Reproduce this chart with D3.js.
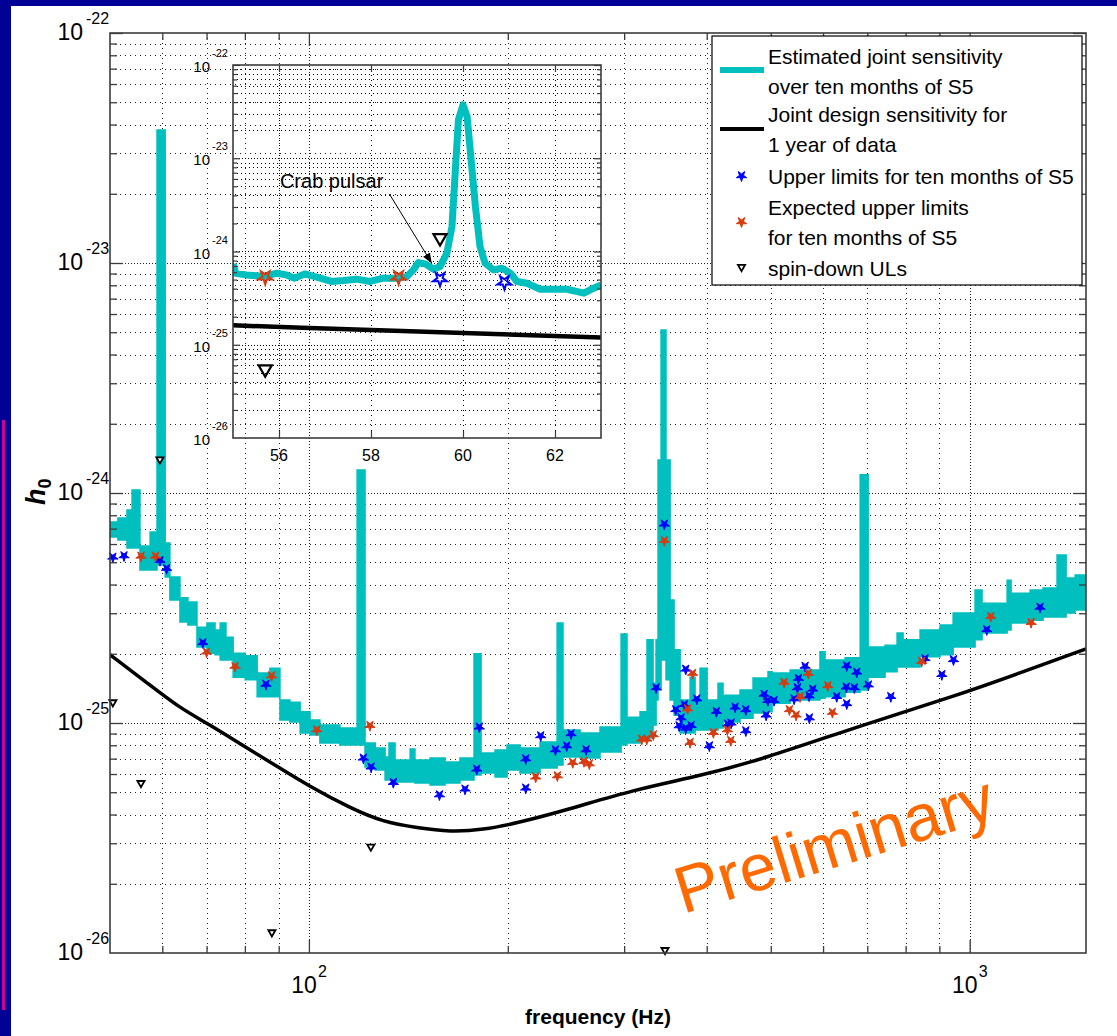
<!DOCTYPE html>
<html>
<head>
<meta charset="utf-8">
<title>Pulsar upper limits for ten months of S5</title>
<script src="https://cdn.jsdelivr.net/npm/d3@7/dist/d3.min.js"></script>
<style>
  html, body { margin: 0; padding: 0; background: #ffffff; }
  svg { display: block; font-family: "Liberation Sans", Arial, Helvetica, sans-serif; }
</style>
</head>
<body>
<svg id="chart" width="1117" height="1036"></svg>
<script>
// ---------------- data ----------------
// Estimated joint sensitivity (ten months of S5): lower / upper edge of the noisy band, step-wise in frequency (Hz)
const bandFreq = [50.0,51.4,53.05,54.0,55.5,57.5,58.9,60.6,61.6,63.8,65.6,67.7,70.1,72.1,73.4,74.9,76.8,80.1,83.5,87.3,
  90.4,93.6,97.0,100.4,103.9,111.4,118.3,121.6,126.0,130.4,132.2,135.0,142.3,144.7,152.5,160.7,169.3,177.8,182.2,191.3,
  199.5,208.7,223.8,237.5,242.4,257.3,275.8,296.8,303.0,317.1,324.9,331.8,335.3,337.6,341.2,347.1,352.1,357.0,364.6,377.5,
  384.1,390.8,400.5,416.1,423.4,449.3,470.1,495.3,502.3,534.9,593.6,604.1,647.9,682.8,702.1,744.7,776.6,792.9,841.4,902.2,
  944.1,1019.1,1044.2,1139.5,1155.4,1234.6,1291.5,1356.1,1399.6,1444.2,1500];
const bandUpper = [7.48e-25,7.78e-25,8.44e-25,1.03e-24,5.88e-25,6.77e-25,3.79e-23,6.06e-25,4.31e-25,3.50e-25,3.36e-25,2.61e-25,2.72e-25,2.54e-25,2.72e-25,2.36e-25,2.01e-25,1.96e-25,1.65e-25,1.73e-25,
  1.26e-25,1.23e-25,1.12e-25,1.03e-25,9.80e-26,9.51e-26,1.26e-24,8.19e-26,7.79e-26,7.12e-26,8.19e-26,6.90e-26,7.71e-26,6.90e-26,7.05e-26,6.77e-26,7.05e-26,2.00e-25,7.41e-26,7.63e-26,
  8.02e-26,7.79e-26,8.27e-26,2.72e-25,9.32e-26,9.05e-26,9.61e-26,2.44e-25,1.06e-25,1.12e-25,2.30e-25,1.49e-25,2.30e-25,1.39e-24,5.11e-24,1.39e-24,3.43e-25,2.08e-25,1.26e-25,1.58e-25,
  1.26e-25,1.73e-25,1.26e-25,1.49e-25,1.32e-25,1.39e-25,1.57e-25,1.67e-25,1.65e-25,1.70e-25,2.04e-25,1.88e-25,1.92e-25,1.20e-24,2.14e-25,2.18e-25,2.46e-25,2.30e-25,2.54e-25,2.67e-25,
  3.01e-25,3.79e-25,3.32e-25,4.18e-25,3.67e-25,3.79e-25,3.86e-25,5.38e-25,4.27e-25,4.40e-25,4.40e-25];
const bandLower = [6.44e-25,6.25e-25,5.77e-25,5.77e-25,4.63e-25,4.63e-25,4.86e-25,4.31e-25,3.43e-25,2.75e-25,2.67e-25,2.14e-25,2.01e-25,1.98e-25,1.88e-25,1.88e-25,1.58e-25,1.54e-25,1.30e-25,1.30e-25,
  1.03e-25,1.01e-25,9.05e-26,8.87e-26,8.19e-26,8.02e-26,8.02e-26,6.44e-26,6.25e-26,5.65e-26,5.65e-26,5.54e-26,5.54e-26,5.48e-26,5.38e-26,5.48e-26,5.65e-26,5.94e-26,6.06e-26,5.83e-26,
  6.25e-26,6.06e-26,6.37e-26,6.57e-26,7.12e-26,7.05e-26,7.48e-26,8.02e-26,8.19e-26,8.61e-26,8.61e-26,9.80e-26,1.26e-25,1.39e-25,1.88e-25,1.54e-25,1.26e-25,1.08e-25,9.05e-26,9.05e-26,
  9.32e-26,9.32e-26,9.32e-26,9.51e-26,1.01e-25,1.05e-25,1.105e-25,1.12e-25,1.22e-25,1.26e-25,1.28e-25,1.30e-25,1.36e-25,1.39e-25,1.58e-25,1.67e-25,1.75e-25,1.75e-25,1.94e-25,1.98e-25,
  2.14e-25,2.30e-25,2.46e-25,2.54e-25,2.72e-25,2.80e-25,2.89e-25,2.89e-25,3.01e-25,3.10e-25,3.10e-25];

// Same sensitivity, finely resolved around the Crab pulsar (55-63 Hz)
const crabFreq = [55.0,55.06,55.29,55.68,55.95,56.16,56.34,56.56,56.82,57.14,57.40,57.69,57.98,58.27,58.56,58.78,58.92,59.03,59.18,59.36,
  59.50,59.65,59.76,59.83,59.90,60.0,60.09,60.17,60.27,60.37,60.48,60.66,60.85,61.03,61.17,61.39,61.68,61.97,62.26,62.63,62.84,63.0];
const crabSens = [7.36e-25,5.85e-25,5.61e-25,5.38e-25,5.85e-25,5.61e-25,5.18e-25,5.75e-25,5.31e-25,4.77e-25,4.88e-25,5.05e-25,4.77e-25,5.18e-25,5.18e-25,5.38e-25,6.35e-25,7.60e-25,7.36e-25,6.46e-25,
  6.89e-25,9.60e-25,1.85e-24,6.90e-24,2.58e-23,3.73e-23,2.79e-23,1.04e-23,3.03e-24,1.13e-24,7.50e-25,6.35e-25,6.62e-25,5.85e-25,4.77e-25,4.57e-25,3.94e-25,3.94e-25,3.94e-25,3.57e-25,4.04e-25,4.39e-25];

// Joint design sensitivity for one year of data
const designFreq = [50, 56.5, 63.8, 70.1, 80.1, 89.8, 100, 115.4, 129.5, 145.8, 163.6, 183.5, 206.4, 245.9, 309.5, 390.8, 481.8, 702, 944, 1192, 1500];
const designSens = [1.98e-25, 1.52e-25, 1.16e-25, 1.0e-25, 7.87e-26, 6.44e-26, 5.32e-26, 4.27e-26, 3.71e-26, 3.50e-26, 3.36e-26, 3.43e-26, 3.67e-26, 4.19e-26, 5.12e-26, 5.89e-26, 6.9e-26, 1.0e-25, 1.3e-25, 1.65e-25, 2.1e-25];

// Upper limits for ten months of S5 (pulsar GW frequency, h0)
const ulFreq = [50.5,52.5,59.5,60.9,69.1,86.1,120.9,124.2,134.2,157.6,172.3,179.5,181.1,212.9,212.9,224.3,236.1,245.6,249.3,262.7,
  335.3,345.1,359.1,371.8,370.0,365.8,363.3,371.8,378.8,386.4,413.7,430.5,435.4,403.7,441.6,458.4,458.4,488.6,492.0,495.0,
  505.8,542.4,548.7,550.6,563.6,571.5,572,578.9,629.3,651.6,650.5,651.6,669.1,674.8,702.6,759.8,855.9,907.7,945.2,1061.4,1278];
const ulSens = [5.25e-25,5.32e-25,5.08e-25,4.69e-25,2.23e-25,1.47e-25,7.02e-26,6.42e-26,5.50e-26,4.86e-26,5.15e-26,6.29e-26,9.58e-26,6.97e-26,5.20e-26,8.78e-26,7.63e-26,7.94e-26,8.96e-26,7.63e-26,
  1.42e-25,7.31e-25,1.14e-25,1.71e-25,1.20e-25,1.05e-25,9.70e-26,9.48e-26,9.73e-26,1.27e-25,1.12e-25,9.87e-26,9.97e-26,7.94e-26,1.17e-25,9.23e-26,1.14e-25,1.33e-25,1.08e-25,1.25e-25,
  1.25e-25,1.27e-25,1.42e-25,1.56e-25,1.76e-25,1.31e-25,1.05e-25,1.40e-25,1.30e-25,1.77e-25,1.43e-25,1.21e-25,1.42e-25,1.66e-25,1.46e-25,1.30e-25,1.90e-25,1.62e-25,1.88e-25,2.54e-25,3.18e-25];

// Expected upper limits for ten months of S5
const expFreq = [55.7,58.6,70.0,77.3,87.8,102.8,123.7,220.4,237.7,250.8,260.8,265.7,319.0,324.6,332.1,345.1,374.2,380.8,377.5,409.4,
  429.9,435.0,523.8,533.6,546.2,553.9,570.1,610.0,619.8,846.1,1076.4,1238.8];
const expSens = [5.3e-25,5.3e-25,2.03e-25,1.76e-25,1.60e-25,9.32e-26,9.73e-26,5.81e-26,5.88e-26,6.72e-26,6.79e-26,6.63e-26,8.49e-26,8.49e-26,8.87e-26,6.20e-25,1.15e-25,1.64e-25,8.21e-26,9.07e-26,
  9.32e-26,8.38e-26,1.50e-25,1.14e-25,1.08e-25,1.30e-25,1.64e-25,1.45e-25,1.11e-25,1.85e-25,2.90e-25,2.73e-25];

// Spin-down upper limits
const sdFreq = [50.5, 55.7, 59.5, 87.9, 124.1, 345.9];
const sdSens = [1.23e-25, 5.48e-26, 1.4e-24, 1.23e-26, 2.90e-26, 1.03e-26];

// Axis tick labels (powers of ten) and inset ticks
const yTickExponents = [-26, -25, -24, -23, -22];
const xTickExponents = [2, 3];
const insetXTicks = [56, 58, 60, 62];

const legendLabels = [
  ["Estimated joint sensitivity", "over ten months of S5"],
  ["Joint design sensitivity for", "1 year of data"],
  ["Upper limits for ten months of S5"],
  ["Expected upper limits", "for ten months of S5"],
  ["spin-down ULs"]
];

// ---------------- drawing ----------------
const W = 1117, H = 1036;
const COL = { navy: "#000096", cyan: "#00BFBF", blue: "#0000FF", red: "#D83A10",
              grid: "#222222", axis: "#3c3c3c", orange: "#FF6A00" };
const svg = d3.select("#chart");

// slide frame
svg.append("rect").attr("width", W).attr("height", H).attr("fill", "#ffffff");
svg.append("rect").attr("width", W).attr("height", 6).attr("fill", COL.navy);
svg.append("rect").attr("width", 11).attr("height", H).attr("fill", COL.navy);
svg.append("rect").attr("x", 2).attr("y", 420).attr("width", 3).attr("height", 590).attr("fill", "#CC0099");

// main axes
const M = { left: 110, right: 1086, top: 33, bottom: 953 };
const x = d3.scaleLog().domain([50, 1500]).range([M.left, M.right]);
const y = d3.scaleLog().domain([1e-26, 1e-22]).range([M.bottom, M.top]);
const isMajor = v => Math.abs(Math.log10(v) - Math.round(Math.log10(v))) < 1e-6;
const xTicks = x.ticks();
const yTicks = y.ticks();

const defs = svg.append("defs");
defs.append("clipPath").attr("id", "clipMain").append("rect")
  .attr("x", M.left).attr("y", M.top).attr("width", M.right - M.left).attr("height", M.bottom - M.top);

// dotted grid
const grid = svg.append("g").attr("stroke", COL.grid).attr("stroke-width", 1).attr("fill", "none");
grid.selectAll("line.gx").data(xTicks.filter(v => v > 50.5)).join("line")
  .attr("x1", d => Math.round(x(d)) + 0.5).attr("x2", d => Math.round(x(d)) + 0.5)
  .attr("y1", M.top).attr("y2", M.bottom)
  .attr("stroke-dasharray", d => isMajor(d) ? "1,2" : "1,4");
grid.selectAll("line.gy").data(yTicks.filter(v => v > 1.01e-26 && v < 0.99e-22)).join("line")
  .attr("y1", d => Math.round(y(d)) + 0.5).attr("y2", d => Math.round(y(d)) + 0.5)
  .attr("x1", M.left).attr("x2", M.right)
  .attr("stroke-dasharray", d => isMajor(d) ? "1,2" : "1,4");

const plot = svg.append("g").attr("clip-path", "url(#clipMain)");

// sensitivity band
const band = d3.area()
  .x((d, i) => x(bandFreq[i]))
  .y0((d, i) => y(bandLower[i]))
  .y1((d, i) => y(bandUpper[i]))
  .curve(d3.curveStepAfter);
plot.append("path").datum(bandFreq).attr("d", band).attr("fill", COL.cyan)
  .attr("stroke", COL.cyan).attr("stroke-width", 1.5).attr("stroke-linejoin", "miter");

// design curve
const designLine = d3.line().x((d, i) => x(designFreq[i])).y((d, i) => y(designSens[i])).curve(d3.curveBasis);
plot.append("path").datum(designFreq).attr("d", designLine).attr("fill", "none")
  .attr("stroke", "#000").attr("stroke-width", 3.5);

// markers
const star = s => d3.symbol(d3.symbolStar, s)();
const tri = s => d3.symbol(d3.symbolTriangle, s)();
function stars(g, fx, fy, xs, ys, color, size, filled, sw) {
  g.append("g").selectAll("path").data(xs).join("path")
    .attr("transform", (d, i) => `translate(${fx(xs[i])},${fy(ys[i])}) rotate(180)`)
    .attr("d", star(size))
    .attr("fill", filled ? color : "none").attr("stroke", color).attr("stroke-width", sw)
    .attr("stroke-linejoin", "miter");
}
function triangles(g, fx, fy, xs, ys, size, sw, fill) {
  g.append("g").selectAll("path").data(xs).join("path")
    .attr("transform", (d, i) => `translate(${fx(xs[i])},${fy(ys[i])}) rotate(180)`)
    .attr("d", tri(size)).attr("fill", fill).attr("stroke", "#000").attr("stroke-width", sw);
}
const mainPlot = svg.append("g");
stars(mainPlot, x, y, ulFreq, ulSens, COL.blue, 34, true, 1);
stars(mainPlot, x, y, expFreq, expSens, COL.red, 34, true, 1);
triangles(mainPlot, x, y, sdFreq, sdSens, 22, 1.8, "#fff");

// axes box and ticks
function tickRow(axisFn, scale, vals, len, tx, ty, sw) {
  svg.append("g").attr("transform", `translate(${tx},${ty})`)
    .call(axisFn(scale).tickValues(vals).tickSizeInner(-len).tickSizeOuter(0).tickFormat(""))
    .call(g => g.select(".domain").remove())
    .call(g => g.selectAll("line").attr("stroke", COL.axis).attr("stroke-width", sw));
}
const xMaj = xTicks.filter(isMajor), xMin = xTicks.filter(v => !isMajor(v) && v > 50.5);
const yMaj = yTicks.filter(isMajor), yMin = yTicks.filter(v => !isMajor(v));
tickRow(d3.axisBottom, x, xMaj, 13, 0, M.bottom, 1.3);
tickRow(d3.axisBottom, x, xMin, 7, 0, M.bottom, 1.3);
tickRow(d3.axisTop, x, xMaj, 13, 0, M.top, 1.3);
tickRow(d3.axisTop, x, xMin, 7, 0, M.top, 1.3);
tickRow(d3.axisLeft, y, yMaj, 13, M.left, 0, 1.3);
tickRow(d3.axisLeft, y, yMin, 7, M.left, 0, 1.3);
tickRow(d3.axisRight, y, yMaj, 13, M.right, 0, 1.3);
tickRow(d3.axisRight, y, yMin, 7, M.right, 0, 1.3);
svg.append("rect").attr("x", M.left).attr("y", M.top).attr("width", M.right - M.left).attr("height", M.bottom - M.top)
  .attr("fill", "none").attr("stroke", COL.axis).attr("stroke-width", 1.6);

// power-of-ten labels
const yl = svg.append("g").attr("fill", "#000");
yTickExponents.forEach(e => {
  const py = y(Math.pow(10, e));
  yl.append("text").attr("x", 83).attr("y", py + 7).attr("text-anchor", "end").attr("font-size", 23).text("10");
  yl.append("text").attr("x", 86).attr("y", py - 9).attr("font-size", 16).text(String(e));
});
xTickExponents.forEach(e => {
  const px = x(Math.pow(10, e));
  yl.append("text").attr("x", px + 8).attr("y", 993).attr("text-anchor", "end").attr("font-size", 23).text("10");
  yl.append("text").attr("x", px + 9).attr("y", 977).attr("font-size", 16).text(String(e));
});

// axis titles
svg.append("text").attr("x", 598).attr("y", 1024).attr("text-anchor", "middle")
  .attr("font-size", 21).attr("font-weight", "bold").text("frequency (Hz)");
const yt = svg.append("text").attr("transform", "translate(45,505) rotate(-90)")
  .attr("font-size", 27).attr("font-weight", "bold").attr("font-style", "italic");
yt.append("tspan").text("h");
yt.append("tspan").attr("dy", 6).attr("font-size", 18).attr("font-style", "normal").text("0");

// ---------------- inset: Crab pulsar region ----------------
const I = { left: 233, right: 601, top: 65, bottom: 438 };
const xi = d3.scaleLinear().domain([55, 63]).range([I.left, I.right]);
const yi = d3.scaleLog().domain([1e-26, 1e-22]).range([I.bottom, I.top]);
const yiTicks = yi.ticks();
defs.append("clipPath").attr("id", "clipInset").append("rect")
  .attr("x", I.left).attr("y", I.top).attr("width", I.right - I.left).attr("height", I.bottom - I.top);

const ig = svg.append("g").attr("stroke", "#000").attr("stroke-width", 1);
ig.selectAll("line.h").data(yiTicks.filter(v => v > 1.01e-26 && v < 0.99e-22)).join("line")
  .attr("x1", I.left).attr("x2", I.right)
  .attr("y1", d => Math.round(yi(d)) + 0.5).attr("y2", d => Math.round(yi(d)) + 0.5)
  .attr("stroke-dasharray", d => isMajor(d) ? "1,2" : "1,3");
ig.selectAll("line.v").data(insetXTicks).join("line")
  .attr("x1", d => Math.round(xi(d)) + 0.5).attr("x2", d => Math.round(xi(d)) + 0.5)
  .attr("y1", I.top).attr("y2", I.bottom).attr("stroke-dasharray", "1,4");

const inset = svg.append("g").attr("clip-path", "url(#clipInset)");
inset.append("path").datum(crabFreq)
  .attr("d", d3.line().x((d, i) => xi(crabFreq[i])).y((d, i) => yi(crabSens[i])))
  .attr("fill", "none").attr("stroke", COL.cyan).attr("stroke-width", 7).attr("stroke-linejoin", "round");
inset.append("path").datum(designFreq)
  .attr("d", d3.line().x((d, i) => xi(designFreq[i])).y((d, i) => yi(designSens[i])))
  .attr("fill", "none").attr("stroke", "#000").attr("stroke-width", 4.5);
const inWin = f => f >= 55 && f <= 63;
const pick = (fs, hs) => { const a = [], b = []; fs.forEach((f, i) => { if (inWin(f)) { a.push(f); b.push(hs[i]); } }); return [a, b]; };
const [iuF, iuS] = pick(ulFreq, ulSens);
const [ieF, ieS] = pick(expFreq, expSens);
const [isF, isS] = pick(sdFreq, sdSens);
stars(inset, xi, yi, iuF, iuS, COL.blue, 60, false, 2);
stars(inset, xi, yi, ieF, ieS, COL.red, 60, false, 2);
triangles(inset, xi, yi, isF, isS, 75, 2.2, "none");

tickRow(d3.axisBottom, xi, insetXTicks, 7, 0, I.bottom, 1.2);
tickRow(d3.axisTop, xi, insetXTicks, 7, 0, I.top, 1.2);
tickRow(d3.axisLeft, yi, yiTicks.filter(isMajor), 7, I.left, 0, 1.2);
tickRow(d3.axisLeft, yi, yiTicks.filter(v => !isMajor(v)), 4, I.left, 0, 1.2);
tickRow(d3.axisRight, yi, yiTicks.filter(isMajor), 7, I.right, 0, 1.2);
tickRow(d3.axisRight, yi, yiTicks.filter(v => !isMajor(v)), 4, I.right, 0, 1.2);
svg.append("rect").attr("x", I.left).attr("y", I.top).attr("width", I.right - I.left).attr("height", I.bottom - I.top)
  .attr("fill", "none").attr("stroke", COL.axis).attr("stroke-width", 1.6);

const il = svg.append("g").attr("fill", "#000");
yTickExponents.forEach(e => {
  const py = yi(Math.pow(10, e));
  il.append("text").attr("x", 210).attr("y", py + 7).attr("text-anchor", "end").attr("font-size", 15).text("10");
  il.append("text").attr("x", 212).attr("y", py - 8).attr("font-size", 11).text(String(e));
});
insetXTicks.forEach(t => {
  il.append("text").attr("x", xi(t)).attr("y", 461).attr("text-anchor", "middle").attr("font-size", 16).text(t);
});

// Crab pulsar annotation
const crabLabel = { f: 56.02, h: 4.8e-24 };
const arrowFrom = { f: 58.40, h: 4.14e-24 };
const arrowTo = { f: 59.32, h: 7.5e-25 };
svg.append("text").attr("x", xi(crabLabel.f)).attr("y", yi(crabLabel.h))
  .attr("font-size", 20).text("Crab pulsar");
defs.append("marker").attr("id", "head").attr("viewBox", "0 0 10 10").attr("refX", 10).attr("refY", 5)
  .attr("markerWidth", 10).attr("markerHeight", 10).attr("markerUnits", "userSpaceOnUse").attr("orient", "auto")
  .append("path").attr("d", "M0,1 L10,5 L0,9 z").attr("fill", "#000");
svg.append("line").attr("x1", xi(arrowFrom.f)).attr("y1", yi(arrowFrom.h))
  .attr("x2", xi(arrowTo.f)).attr("y2", yi(arrowTo.h))
  .attr("stroke", "#000").attr("stroke-width", 1).attr("marker-end", "url(#head)");

// ---------------- legend ----------------
const L = { x: 712, y: 36, w: 370, h: 249 };
const lg = svg.append("g");
lg.append("rect").attr("x", L.x).attr("y", L.y).attr("width", L.w).attr("height", L.h)
  .attr("fill", "#fff").attr("stroke", "#000").attr("stroke-width", 1.2);
const baselines = [[64, 93.5], [122, 152], [184], [215, 244.5], [276]];
legendLabels.forEach((lines, k) => {
  lines.forEach((t, j) => lg.append("text").attr("x", 768).attr("y", baselines[k][j]).attr("font-size", 21).text(t));
});
lg.append("line").attr("x1", 720).attr("x2", 764).attr("y1", 70).attr("y2", 70).attr("stroke", COL.cyan).attr("stroke-width", 6);
lg.append("line").attr("x1", 720).attr("x2", 764).attr("y1", 129).attr("y2", 129).attr("stroke", "#000").attr("stroke-width", 4);
lg.append("path").attr("transform", "translate(741.5,176) rotate(180)").attr("d", star(34)).attr("fill", COL.blue).attr("stroke", COL.blue).attr("stroke-width", 1);
lg.append("path").attr("transform", "translate(741.5,222) rotate(180)").attr("d", star(34)).attr("fill", COL.red).attr("stroke", COL.red).attr("stroke-width", 1);
lg.append("path").attr("transform", "translate(741.5,267) rotate(180)").attr("d", tri(22)).attr("fill", "#fff").attr("stroke", "#000").attr("stroke-width", 1.8);

// ---------------- watermark ----------------
svg.append("text").attr("transform", "translate(683,914) rotate(-17)")
  .attr("font-size", 66).attr("fill", COL.orange).text("Preliminary");
</script>
</body>
</html>
